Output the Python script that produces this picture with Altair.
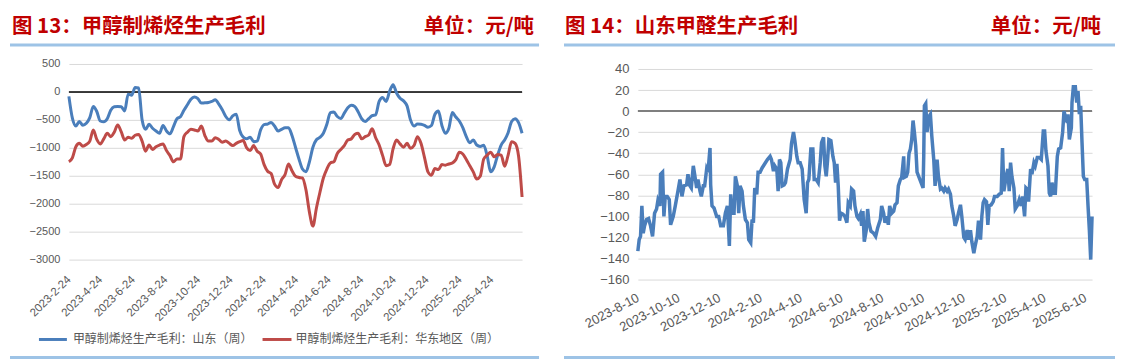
import altair as alt
import pandas as pd

FONT_CJK = "Noto Sans CJK SC"
FONT_NUM = "Liberation Sans"
TITLE_RED = "#C00000"
SEP_BLUE = "#9DC3E6"
LABEL_GRAY = "#595959"
GRID_GRAY = "#D9D9D9"
BLUE = "#4A7EBB"
RED = "#BE4B48"

left_title = "图 13：甲醇制烯烃生产毛利"
right_title = "图 14：山东甲醛生产毛利"
unit_text = "单位：元/吨"
series_names = ["甲醇制烯烃生产毛利：山东（周）", "甲醇制烯烃生产毛利：华东地区（周）"]

# ---------------- left chart: weekly olefin margin ----------------
left_first_date = "2023-02-24"
left_last_date = "2025-06-20"
shandong = [
    -80, -470, -610, -530, -595, -560, -460, -260, -350, -520,
    -535, -480, -330, -265, -260, -265, -340, -40, -60, 80,
    70, -500, -670, -580, -650, -700, -740, -600, -700, -750,
    -620, -480, -445, -330, -230, -130, -90, -120, -200, -195,
    -190, -170, -140, -220, -320, -440, -500, -430, -400, -690,
    -810, -840, -810, -890, -880, -680, -585, -575, -545, -610,
    -700, -670, -640, -640, -780, -990, -1200, -1380, -1430, -1250,
    -990, -855, -815, -740, -580, -370, -360, -440, -475, -380,
    -285, -240, -260, -360, -480, -530, -480, -425, -410, -170,
    -100, -170, 10, 130, -20, -115, -160, -250, -500, -610,
    -575, -580, -600, -630, -600, -400, -340, -600, -740, -650,
    -370, -450, -520, -640, -800, -910, -860, -950, -975, -955,
    -1150, -1430, -1340, -1130, -950, -860, -730, -530, -480, -550,
    -740,
]
huadong = [
    -1250, -1180, -980, -920, -970, -940, -880, -680, -850, -930,
    -840, -740, -800, -720, -590, -710, -860, -810, -830, -775,
    -760, -880, -1060, -950, -1030, -980, -950, -930, -1050, -1140,
    -1250, -1200, -1200, -800, -720, -670, -680, -700, -610, -780,
    -880, -880, -820, -850, -900, -880, -920, -960, -920, -890,
    -870, -1000, -1050, -960, -1060, -1110, -1300, -1420, -1460, -1650,
    -1710, -1570, -1480, -1290, -1410, -1510, -1530, -1540, -1750, -2150,
    -2400, -2080, -1800, -1540, -1380, -1270, -1250, -1100, -1030, -960,
    -860, -840, -760, -740, -840, -800, -770, -660, -820, -950,
    -1140, -1320, -1300, -1020, -860, -930, -990, -920, -1010, -960,
    -800, -920, -1170, -1430, -1490, -1370, -1390, -1300, -1310, -1290,
    -1270, -1210, -1080, -1110, -1210, -1320, -1430, -1560, -1510, -1200,
    -1130, -1080, -1160, -1120, -1130, -1330, -1130, -890, -920, -1150,
    -1880,
]
left_x_ticks = [
    "2023-02-24", "2023-04-24", "2023-06-24", "2023-08-24", "2023-10-24",
    "2023-12-24", "2024-02-24", "2024-04-24", "2024-06-24", "2024-08-24",
    "2024-10-24", "2024-12-24", "2025-02-24", "2025-04-24",
]
left_y_ticks = [500, 0, -500, -1000, -1500, -2000, -2500, -3000]

# ---------------- right chart: daily formaldehyde margin ----------------
right_first_date = "2023-08-09"
right_day_offsets = [
    1, 3, 5, 7, 9, 11, 14, 17, 20, 23, 26, 29, 31, 34, 35, 38, 40, 42, 45, 48,
    50, 54, 57, 61, 64, 67, 70, 74, 76, 79, 81, 84, 86, 89, 91, 94, 96, 99, 101, 104,
    106, 109, 110, 112, 115, 119, 122, 125, 129, 132, 135, 138, 140, 142, 145, 147, 150, 152, 154, 157,
    159, 162, 165, 167, 170, 172, 174, 176, 179, 181, 184, 187, 191, 195, 199, 201, 204, 206, 209, 211,
    213, 215, 217, 220, 222, 225, 229, 231, 234, 236, 239, 241, 244, 247, 250, 253, 255, 257, 260, 263,
    265, 268, 271, 274, 276, 279, 281, 283, 285, 287, 290, 293, 295, 297, 299, 301, 303, 305, 308, 311,
    314, 316, 319, 321, 324, 326, 329, 331, 334, 336,
    338, 340, 343, 345, 347, 350, 354, 357, 360, 364, 366, 369, 371, 374, 376, 378, 381, 384, 386, 389,
    391, 394, 396, 399, 400, 403, 405, 407, 409, 411, 413, 415, 417, 419, 422, 425, 428, 429, 430, 432,
    434, 436, 439, 441, 444, 446, 449, 451, 454, 456, 459, 461, 464, 466, 469, 471, 474, 476, 479, 481,
    484, 486, 489, 491, 494, 496, 499, 501, 504, 506, 509, 511, 514, 516, 518, 520, 523, 525, 527, 530,
    533, 535, 539, 542, 545, 547, 549, 551, 553, 555, 557, 559, 561, 564, 566, 569, 572, 575, 577, 580,
    582, 585, 586, 589, 591, 594, 596, 599, 602, 605, 608, 610, 612, 615, 617, 619, 621, 624, 626, 629,
    631, 634, 637, 639, 641, 644, 645, 647, 650, 651, 653, 656, 658, 660, 662, 664, 666, 668, 670, 673,
    675, 677, 679, 681,
]
right_values = [
    -133, -122, -119, -90, -116, -109, -103, -102, -109, -119, -97, -93, -85, -90, -60, -58, -100, -81, -81, -84,
    -108, -100, -90, -76, -65, -81, -71, -70, -60, -71, -73, -52, -60, -73, -65, -76, -81, -71, -71, -55,
    -58, -35, -70, -90, -92, -100, -100, -109, -109, -97, -90, -128, -79, -97, -97, -62, -71, -97, -71, -76,
    -90, -103, -106, -122, -125, -103, -106, -73, -79, -58, -58, -54, -50, -46, -43, -46, -57, -52, -55, -76,
    -46, -49, -71, -70, -68, -55, -46, -31, -20, -28, -43, -49, -49, -55, -84, -97, -68, -65, -36, -36,
    -65, -65, -68, -49, -30, -25, -52, -62, -47, -27, -28, -43, -49, -68, -50, -71, -104, -97, -98, -100,
    -106, -87, -90, -74, -76, -90, -100, -102, -98, -109,
    -95, -124, -113, -93, -106, -114, -116, -119, -111, -103, -90, -97, -106, -100, -108, -90, -97, -95, -89, -87,
    -71, -65, -63, -43, -63, -62, -58, -40, -36, -27, -9, -20, -33, -58, -63, -68, -73, -43, 5, 7,
    -20, -6, -3, -23, -46, -71, -46, -62, -74, -73, -76, -73, -76, -74, -79, -90, -100, -109, -103, -97,
    -89, -100, -120, -122, -113, -122, -113, -124, -135, -128, -119, -104, -122, -100, -87, -84, -86, -108, -90, -89,
    -86, -81, -81, -79, -78, -35, -76, -68, -60, -55, -76, -49, -62, -73, -93, -90, -84, -90, -81, -100,
    -73, -75, -86, -55, -60, -49, -52, -44, -44, -46, -19, -19, -38, -52, -78, -81, -68, -78, -78, -43,
    -36, -35, -20, 0, -5, -11, -3, -27, -16, 8, 23, 23, 8, 19, -3, 5, -30, -62, -65, -65,
    -90, -113, -141, -100,
]
right_x_ticks = [
    "2023-08-10", "2023-10-10", "2023-12-10", "2024-02-10", "2024-04-10", "2024-06-10",
    "2024-08-10", "2024-10-10", "2024-12-10", "2025-02-10", "2025-04-10", "2025-06-10",
]
right_y_ticks = [40, 20, 0, -20, -40, -60, -80, -100, -120, -140, -160]


def dt(s):
    t = pd.Timestamp(s)
    return alt.DateTime(year=t.year, month=t.month, date=t.day)


one = pd.DataFrame({"k": [0]})


def text_layer(txt, x, y, size, color, weight="normal", align="left", font=FONT_CJK):
    return alt.Chart(one).mark_text(
        text=txt, fontSize=size, fontWeight=weight, color=color,
        align=align, baseline="middle", font=font,
    ).encode(x=alt.value(x), y=alt.value(y))


def hline(x1, x2, y, color, width):
    return alt.Chart(one).mark_rule(color=color, strokeWidth=width).encode(
        x=alt.value(x1), x2=alt.value(x2), y=alt.value(y)
    )


def x_axis(ticks, angle, pad, size):
    return alt.Axis(values=[dt(s) for s in ticks], format="%Y-%-m-%-d",
                    labelAngle=angle, labelAlign="right", labelBaseline="middle",
                    labelPadding=pad, labelFontSize=size, labelColor=LABEL_GRAY,
                    labelFont=FONT_NUM, ticks=False, domain=False, grid=False,
                    labelFlush=False, labelOverlap=False)


def y_axis(ticks, size):
    return alt.Axis(values=ticks, format="d", labelFontSize=size, labelColor=LABEL_GRAY,
                    labelFont=FONT_NUM, labelPadding=9, ticks=False, domain=False,
                    gridColor=GRID_GRAY, gridWidth=1, labelOverlap=False, labelFlush=False)


TITLE_SIZE = 20.5
TITLE_Y = -37

# ---------- left panel ----------
LW, LH = 454, 196
left_dates = pd.date_range(left_first_date, left_last_date, periods=len(shandong))
left_df = pd.concat([
    pd.DataFrame({"date": left_dates, "value": shandong, "series": series_names[0]}),
    pd.DataFrame({"date": left_dates, "value": huadong, "series": series_names[1]}),
])
left_yscale = alt.Scale(domain=[-3000, 500], nice=False, zero=False)

left_lines = alt.Chart(left_df).mark_line(strokeWidth=3, interpolate="monotone").encode(
    x=alt.X("date:T", title=None,
            scale=alt.Scale(domain=[dt(left_first_date), dt(left_last_date)], nice=False),
            axis=x_axis(left_x_ticks, -45, 18, 11.5)),
    y=alt.Y("value:Q", title=None, scale=left_yscale, axis=y_axis(left_y_ticks, 11)),
    color=alt.Color("series:N", scale=alt.Scale(domain=series_names, range=[BLUE, RED]),
                    legend=None),
)
left_zero = alt.Chart(pd.DataFrame({"value": [0]})).mark_rule(color="black", strokeWidth=1.5).encode(
    y=alt.Y("value:Q", title=None, scale=left_yscale, axis=y_axis(left_y_ticks, 11))
)

left = alt.layer(
    left_zero,
    left_lines,
    hline(-59, 471, -19, SEP_BLUE, 3),
    hline(-59, 471, 294, SEP_BLUE, 3),
    text_layer(left_title, -57, TITLE_Y, TITLE_SIZE, TITLE_RED, weight="bold"),
    text_layer(unit_text, 466, TITLE_Y, TITLE_SIZE, TITLE_RED, weight="bold", align="right"),
    hline(-30, -2, 276, BLUE, 3),
    text_layer(series_names[0], 4, 276, 12, LABEL_GRAY),
    hline(194, 223, 276, RED, 3),
    text_layer(series_names[1], 227, 276, 12, LABEL_GRAY),
).properties(width=LW, height=LH)

# ---------- right panel ----------
# plot area shares the left panel's top; the 40 gridline sits 5px below it
RW, RH = 455, 216
r_extra = 5 * (40 - (-160)) / 211
right_dates = pd.Timestamp(right_first_date) + pd.to_timedelta(right_day_offsets, unit="D")
right_df = pd.DataFrame({"date": right_dates, "value": right_values})
right_yscale = alt.Scale(domain=[-160, 40 + r_extra], nice=False, zero=False)

right_line = alt.Chart(right_df).mark_line(strokeWidth=3.5, color=BLUE).encode(
    x=alt.X("date:T", title=None,
            scale=alt.Scale(domain=[dt(right_dates.min()), dt(right_dates.max())], nice=False),
            axis=x_axis(right_x_ticks, -28, 17, 13)),
    y=alt.Y("value:Q", title=None, scale=right_yscale, axis=y_axis(right_y_ticks, 13)),
)
right_zero = alt.Chart(pd.DataFrame({"value": [0]})).mark_rule(color="#7F7F7F", strokeWidth=2).encode(
    y=alt.Y("value:Q", title=None, scale=right_yscale, axis=y_axis(right_y_ticks, 13))
)

right = alt.layer(
    right_zero,
    right_line,
    hline(-74, 478, -19, SEP_BLUE, 3),
    hline(-74, 478, 294, SEP_BLUE, 3),
    text_layer(right_title, -73, TITLE_Y, TITLE_SIZE, TITLE_RED, weight="bold"),
    text_layer(unit_text, 464, TITLE_Y, TITLE_SIZE, TITLE_RED, weight="bold", align="right"),
).properties(width=RW, height=RH)

chart = alt.hconcat(left, right, spacing=21).properties(
    padding={"left": 0, "top": 8.75, "right": 0, "bottom": 0},
    background="white",
).configure_view(stroke=None)

chart.save("out.html", embed_options={"renderer": "svg", "actions": False})
